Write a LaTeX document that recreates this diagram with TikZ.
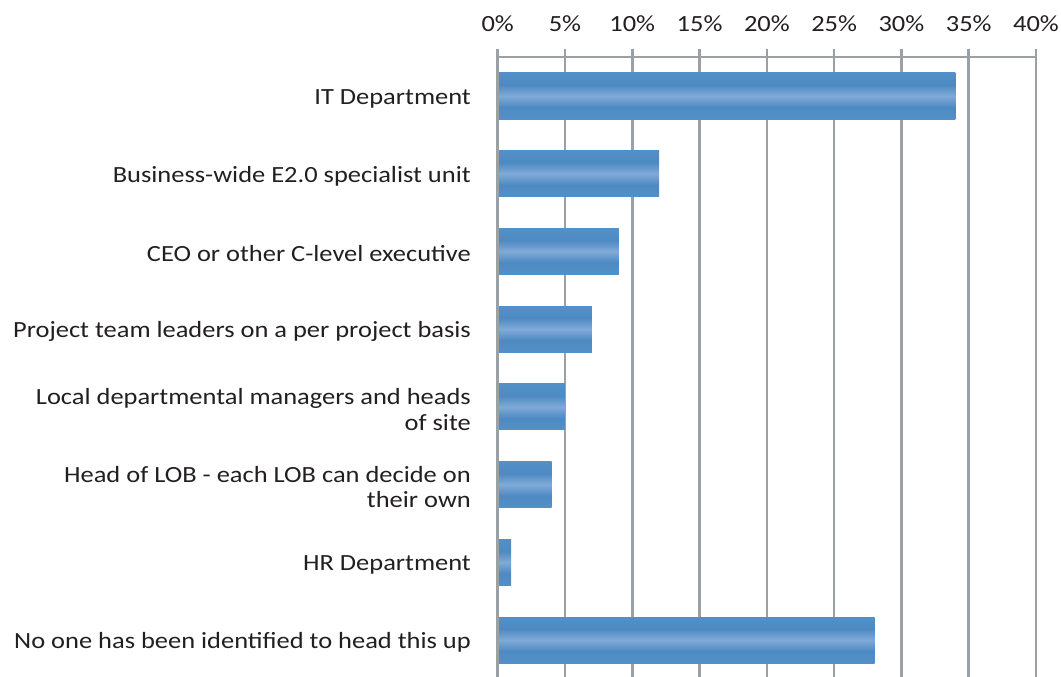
\documentclass[tikz,border=0pt]{standalone}
\usepackage{fontspec}
\setmainfont[FakeStretch=1.14]{Carlito}
\definecolor{gridc}{HTML}{9AA0A4}
\definecolor{barc}{HTML}{5290C8}
\definecolor{bard}{HTML}{4E8AC2}
\definecolor{barl}{HTML}{80AAD8}
\definecolor{txt}{HTML}{231F20}
\pgfdeclareverticalshading{barsh}{100bp}{color(0bp)=(barc); color(25bp)=(barc); color(38bp)=(bard); color(50bp)=(barl); color(62bp)=(bard); color(75bp)=(barc); color(100bp)=(barc)}
\tikzset{
  grid/.style={draw=gridc, line width=2.6pt},
  bar/.style={shading=barsh, draw=none},
  lab/.style={anchor=east, align=right, text=txt, font=\fontsize{23.2}{25.5}\selectfont, inner sep=0pt},
  tick/.style={anchor=center, text=txt, font=\fontsize{23.2}{25}\selectfont, inner sep=0pt},
}
\begin{document}
\begin{tikzpicture}[x=1pt,y=-1pt]
\useasboundingbox (0,0) rectangle (1061,677);
% grid
\foreach \i in {0,...,8} {
  \pgfmathsetmacro{\xx}{497.7+67.29*\i}
  \draw[grid] (\xx,49) -- (\xx,677);
  \pgfmathtruncatemacro{\pc}{5*\i}
  \node[tick] (t\i) at (\xx,24) {\pc\%};
}
\draw[grid] (497.7,57) -- (1036,57);
% bars
\foreach \n/\v/\y/\t in {
  a/34/96/{IT Department},
  b/12/173.7/{Business-wide E2.0 specialist unit},
  c/9/251.4/{CEO or other C-level executive},
  d/7/329.1/{Project team leaders on a per project basis},
  e/5/406.9/{Local departmental managers and heads\\of site},
  f/4/484.6/{Head of LOB - each LOB can decide on\\their own},
  g/1/562.3/{HR Department},
  h/28/640/{No one has been identified to head this up}} {
  \pgfmathsetmacro{\xe}{497.7+13.458*\v}
  \path[bar] (499,\y-23) rectangle (\xe,\y+23);
  \node[lab] (l\n) at (471,\y+2.5) {\t};
}
\end{tikzpicture}
\end{document}
